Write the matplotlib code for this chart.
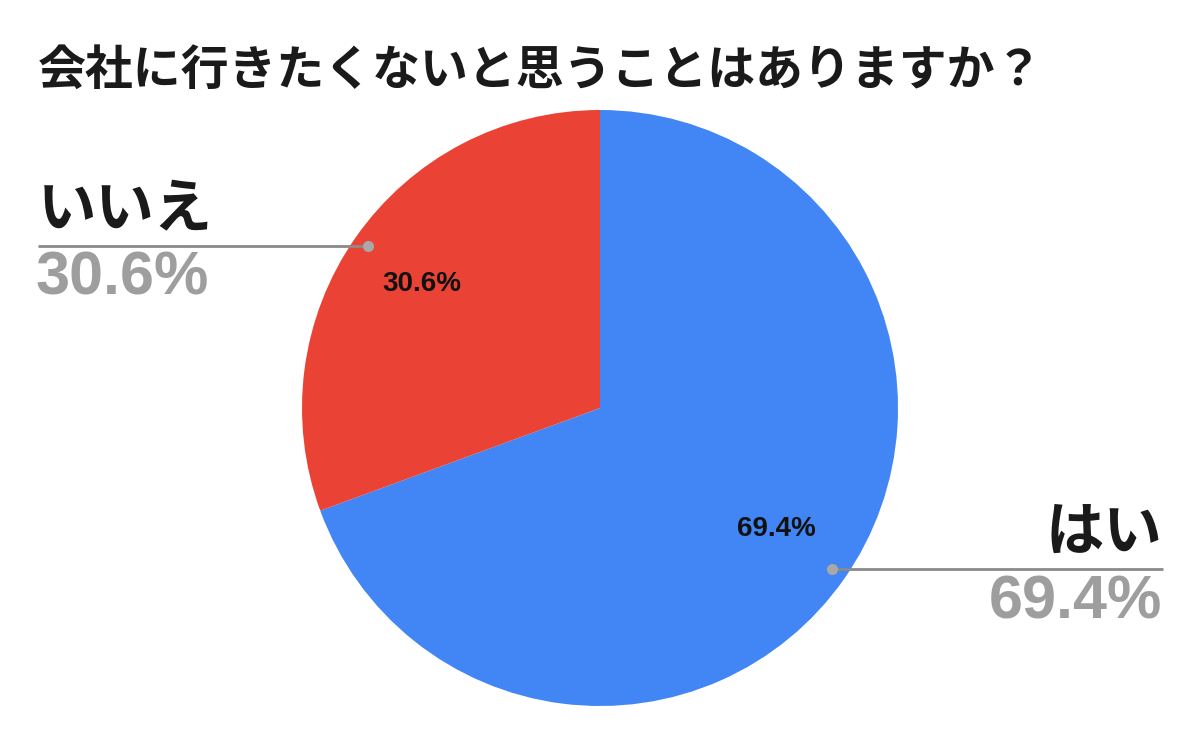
import matplotlib
matplotlib.use("Agg")
import matplotlib.pyplot as plt

title = "会社に行きたくないと思うことはありますか？"
labels = ["はい", "いいえ"]
values = [69.4, 30.6]
pct_text = ["69.4%", "30.6%"]
colors = ["#4285F4", "#EA4335"]

W, H = 1200, 742
fig = plt.figure(figsize=(12, 7.42), dpi=100)
ax = fig.add_axes([0, 0, 1, 1])
ax.set_xlim(0, W)
ax.set_ylim(0, H)
ax.set_aspect("equal")
ax.axis("off")

def Y(p):
    return H - p

cx, cy, r = 600, Y(408), 298
ax.pie(values, colors=colors, startangle=90, counterclock=False,
       center=(cx, cy), radius=r, frame=True,
       wedgeprops=dict(linewidth=0))
ax.set_xlim(0, W)
ax.set_ylim(0, H)
ax.axis("off")

jp = ["Noto Sans CJK JP", "DejaVu Sans"]
num = ["Liberation Sans", "DejaVu Sans"]

ax.text(38, Y(70), title, family=jp, fontweight="bold", fontsize=34.5,
        color="#1a1a1a", ha="left", va="center")

# inner labels
ax.text(422, Y(284), pct_text[1], family=num, fontweight="bold", fontsize=20,
        color="#111111", ha="center", va="center")
ax.text(776, Y(529), pct_text[0], family=num, fontweight="bold", fontsize=20,
        color="#111111", ha="center", va="center")

line_c = "#8a8a8a"
dot_c = "#a8a8a8"
# left outer label (いいえ)
ax.plot([38, 368], [Y(246), Y(246)], color=line_c, lw=2, solid_capstyle="butt")
ax.plot([368], [Y(246)], "o", color=dot_c, ms=7)
ax.text(38, Y(210), labels[1], family=jp, fontweight="bold", fontsize=42,
        color="#1a1a1a", ha="left", va="center")
ax.text(36, Y(279), pct_text[1], family=num, fontweight="bold", fontsize=44,
        color="#9e9e9e", ha="left", va="center")

# right outer label (はい)
ax.plot([832, 1163], [Y(569), Y(569)], color=line_c, lw=2, solid_capstyle="butt")
ax.plot([832], [Y(569)], "o", color=dot_c, ms=7)
ax.text(1162, Y(533), labels[0], family=jp, fontweight="bold", fontsize=42,
        color="#1a1a1a", ha="right", va="center")
ax.text(1162, Y(603), pct_text[0], family=num, fontweight="bold", fontsize=44,
        color="#9e9e9e", ha="right", va="center")

fig.savefig("out.png", dpi=100, facecolor="white")
